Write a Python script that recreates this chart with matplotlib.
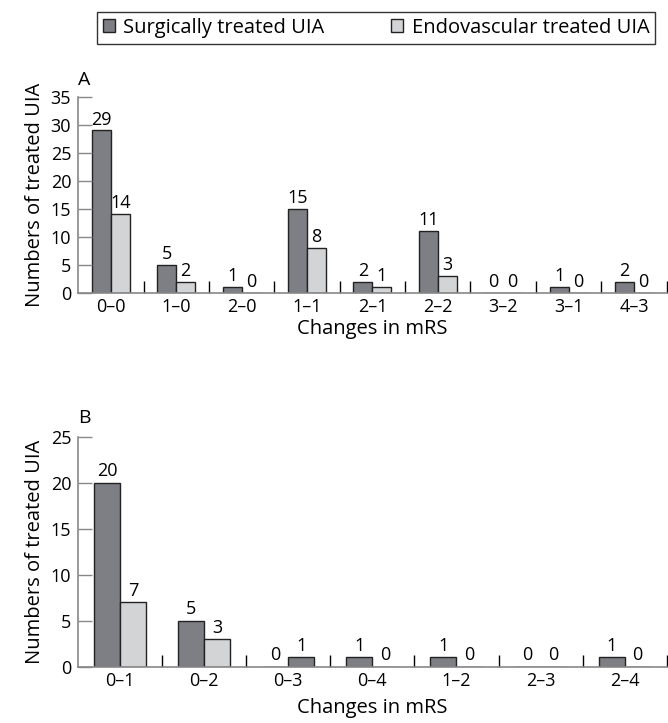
import numpy as np
from matplotlib import pyplot as plt
from matplotlib.patches import Patch

# panel A: changes in mRS with improvement/no change
cats_a = ['0–0', '1–0', '2–0', '1–1', '2–1', '2–2', '3–2', '3–1', '4–3']
surg_a = [29, 5, 1, 15, 2, 11, 0, 1, 2]
endo_a = [14, 2, 0, 8, 1, 3, 0, 0, 0]

# panel B: deterioration
cats_b = ['0–1', '0–2', '0–3', '0–4', '1–2', '2–3', '2–4']
surg_b = [20, 5, 0, 1, 1, 0, 1]
endo_b = [7, 3, 1, 0, 0, 0, 0]

dark = '#7e7f84'
light = '#d3d4d6'
edge = '#222222'
plt.rcParams['font.family'] = ['Open Sans', 'DejaVu Sans']

fig = plt.figure(figsize=(6.68, 7.23), dpi=100)


def panel(ax, cats, surg, endo, ymax, step, width, letter, xpad, endo_colors=None):
    x = np.arange(len(cats))
    if endo_colors is None:
        endo_colors = [light] * len(cats)
    ax.bar(x - width / 2, surg, width, color=dark, edgecolor=edge, linewidth=1)
    ax.bar(x + width / 2, endo, width, color=endo_colors, edgecolor=edge, linewidth=1)
    for xi, s, e in zip(x, surg, endo):
        ax.text(xi - width / 2, s + ymax * 0.01, str(s), ha='center', va='bottom', fontsize=13)
        ax.text(xi + width / 2, e + ymax * 0.01, str(e), ha='center', va='bottom', fontsize=13)
    ax.set_xlim(-0.5, len(cats) - 0.5)
    ax.set_ylim(0, ymax)
    ax.set_yticks(np.arange(0, ymax + 1, step))
    ax.set_xticks(x)
    ax.set_xticklabels(cats)
    ax.set_xticks(np.arange(0.5, len(cats)), minor=True)
    ax.tick_params(axis='x', which='major', length=0, labelsize=13, pad=4)
    ax.tick_params(axis='x', which='minor', direction='in', length=9, width=1, color='black')
    ax.tick_params(axis='y', direction='in', length=10, width=1, color='#888888', labelsize=13, pad=5)
    for side in ['top', 'right']:
        ax.spines[side].set_visible(False)
    for side in ['left', 'bottom']:
        ax.spines[side].set_color('#888888')
        ax.spines[side].set_linewidth(1.2)
    ax.set_xlabel('Changes in mRS', fontsize=14.5, labelpad=xpad)
    ax.set_ylabel('Numbers of treated UIA', fontsize=14.5, labelpad=4)
    ax.text(0.0, 1.04, letter, transform=ax.transAxes, fontsize=14, ha='left', va='bottom')


ax1 = fig.add_axes([0.117, 0.595, 0.881, 0.271])
panel(ax1, cats_a, surg_a, endo_a, 35, 5, 0.29, 'A', 2)

ax2 = fig.add_axes([0.117, 0.078, 0.881, 0.318])
colors_b = [light] * len(cats_b)
colors_b[2] = dark
panel(ax2, cats_b, surg_b, endo_b, 25, 5, 0.31, 'B', 6, endo_colors=colors_b)

handles = [Patch(facecolor=dark, edgecolor=edge, label='Surgically treated UIA'),
           Patch(facecolor=light, edgecolor=edge, label='Endovascular treated UIA')]
fig.legend(handles=handles, loc='upper left', bbox_to_anchor=(0.145, 0.935, 0.836, 0.049),
           mode='expand', borderaxespad=0, ncol=2,
           frameon=True, fancybox=False, edgecolor='black', fontsize=14.5,
           handlelength=0.6, handleheight=0.6, handletextpad=0.4,
           borderpad=0.3)

plt.savefig('out.png', dpi=100)
